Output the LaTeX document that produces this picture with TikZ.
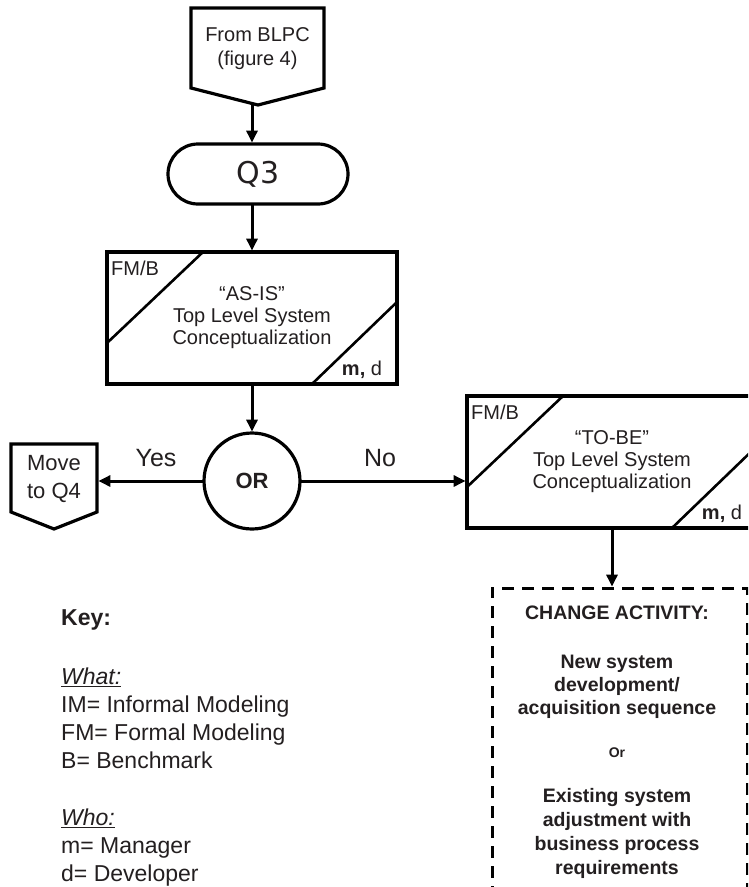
\documentclass[tikz,border=0pt]{standalone}
\usepackage{fontspec}
\setmainfont{Liberation Sans}
\newfontfamily\qfont{DejaVu Sans}
\usetikzlibrary{arrows.meta,calc}
\definecolor{txt}{RGB}{35,31,32}
\begin{document}
\begin{tikzpicture}[x=1pt,y=-1pt,
  border/.style={line width=3.2pt},
  box/.style={draw, border, outer sep=0pt, minimum width=290pt, minimum height=132pt, inner sep=0pt,
    align=center, text=txt, font=\fontsize{20}{22}\selectfont},
  arr/.style={line width=3pt, -{Triangle[length=12pt,width=11pt]}, shorten >=1.4pt},
  diag/.style={line width=2.6pt},
  lbl/.style={text=txt, inner sep=0pt, align=center, font=\fontsize{20}{22}\selectfont},
  chgtxt/.style={text=txt, inner sep=0pt, align=center, font=\fontsize{19.5}{23}\selectfont\bfseries},
  keytxt/.style={text=txt, inner sep=0pt, align=left, font=\fontsize{23}{28}\selectfont},
]
\clip (0,0) rectangle (748,887);
\fill[white] (0,0) rectangle (748,887);

% From BLPC pentagon
\node[lbl, minimum width=133pt, minimum height=80pt, font=\fontsize{20}{24}\selectfont] (from) at (257.5,49) {From BLPC\\(figure 4)};
\coordinate (fromtip) at (258,105);
\draw[border, line join=miter] (191,8) -- (324,8) -- (324,88) -- (fromtip) -- (191,88) -- cycle;

% Q3
\node[draw, border, rounded corners=30pt, minimum width=180pt, minimum height=60pt, inner sep=0pt, outer sep=0pt,
  text=txt, font=\qfont\fontsize{30}{32}\selectfont] (q3) at (258,174) {Q3};

% AS-IS box
\node[box] (asis) at (252,318) {“AS-IS”\\Top Level System\\Conceptualization};
\draw[diag] ($(asis.north west)+(0,91)$) -- ($(asis.north west)+(96,0)$);
\draw[diag] ($(asis.south east)+(0,-82)$) -- ($(asis.south east)+(-85,0)$);
\node[lbl, anchor=base west] (asisfm) at ($(asis.north west)+(4,23)$) {FM/B};
\node[lbl, anchor=base] (asiswho) at ($(asis.south east)+(-35,-9)$) {\textbf{m,} d};

% OR
\node[draw, border, circle, minimum size=96pt, inner sep=0pt, outer sep=0pt, text=txt,
  font=\fontsize{22}{24}\selectfont\bfseries] (or) at (252,481) {OR};

% Move to Q4
\node[lbl, minimum width=86pt, minimum height=68pt, outer sep=0pt, font=\fontsize{22}{28}\selectfont] (move) at (54,479) {Move\\to Q4};
\coordinate (movetip) at (54,529);
\draw[border, line join=miter] (11,444) -- (97,444) -- (97,512) -- (movetip) -- (11,512) -- cycle;

% TO-BE box
\node[box] (tobe) at (612,462) {“TO-BE”\\Top Level System\\Conceptualization};
\draw[diag] ($(tobe.north west)+(0,91)$) -- ($(tobe.north west)+(96,0)$);
\draw[diag] ($(tobe.south east)+(0,-82)$) -- ($(tobe.south east)+(-85,0)$);
\node[lbl, anchor=base west] (tobefm) at ($(tobe.north west)+(4,23)$) {FM/B};
\node[lbl, anchor=base] (tobewho) at ($(tobe.south east)+(-35,-9)$) {\textbf{m,} d};

% Change activity box
\node[draw, line width=3pt, dash pattern=on 12pt off 8pt, minimum width=255pt, minimum height=372pt,
  inner sep=0pt, outer sep=0pt] (chg) at (619.5,774) {};
\node[chgtxt, anchor=base] (chgtitle) at (617,619) {CHANGE ACTIVITY:};
\node[chgtxt] (chgnew) at (617,687) {New system\\development/\\acquisition sequence};
\node[chgtxt, font=\fontsize{14}{16}\selectfont\bfseries] (chgor) at (617,753) {Or};
\node[chgtxt, font=\fontsize{19.5}{24}\selectfont\bfseries] (chgexist) at (617,833) {Existing system\\adjustment with\\business process\\requirements};

% Labels
\node[lbl, font=\fontsize{25}{28}\selectfont] (yes) at (156,458) {Yes};
\node[lbl, font=\fontsize{25}{28}\selectfont] (no) at (380,458) {No};

% Key
\node[keytxt, anchor=base west, font=\fontsize{23}{28}\selectfont\bfseries] (key) at (61,625) {Key:};
\node[keytxt, anchor=west] (what) at (61,718) {\underline{\textit{What:}}\\IM= Informal Modeling\\FM= Formal Modeling\\B= Benchmark};
\node[keytxt, anchor=west] (who) at (61,848) {\underline{\textit{Who:}}\\m= Manager\\d= Developer};

% Connectors
\draw[arr] (fromtip -| asis.north) -- (q3.north -| asis.north);
\draw[arr] (q3.south -| asis.north) -- (asis.north);
\draw[arr] (asis.south) -- (or.north);
\draw[arr] (or.west) -- (or.west -| move.east);
\draw[arr] (or.east) -- (or.east -| tobe.west);
\draw[arr] (tobe.south) -- (tobe.south |- chg.north);
\end{tikzpicture}
\end{document}
